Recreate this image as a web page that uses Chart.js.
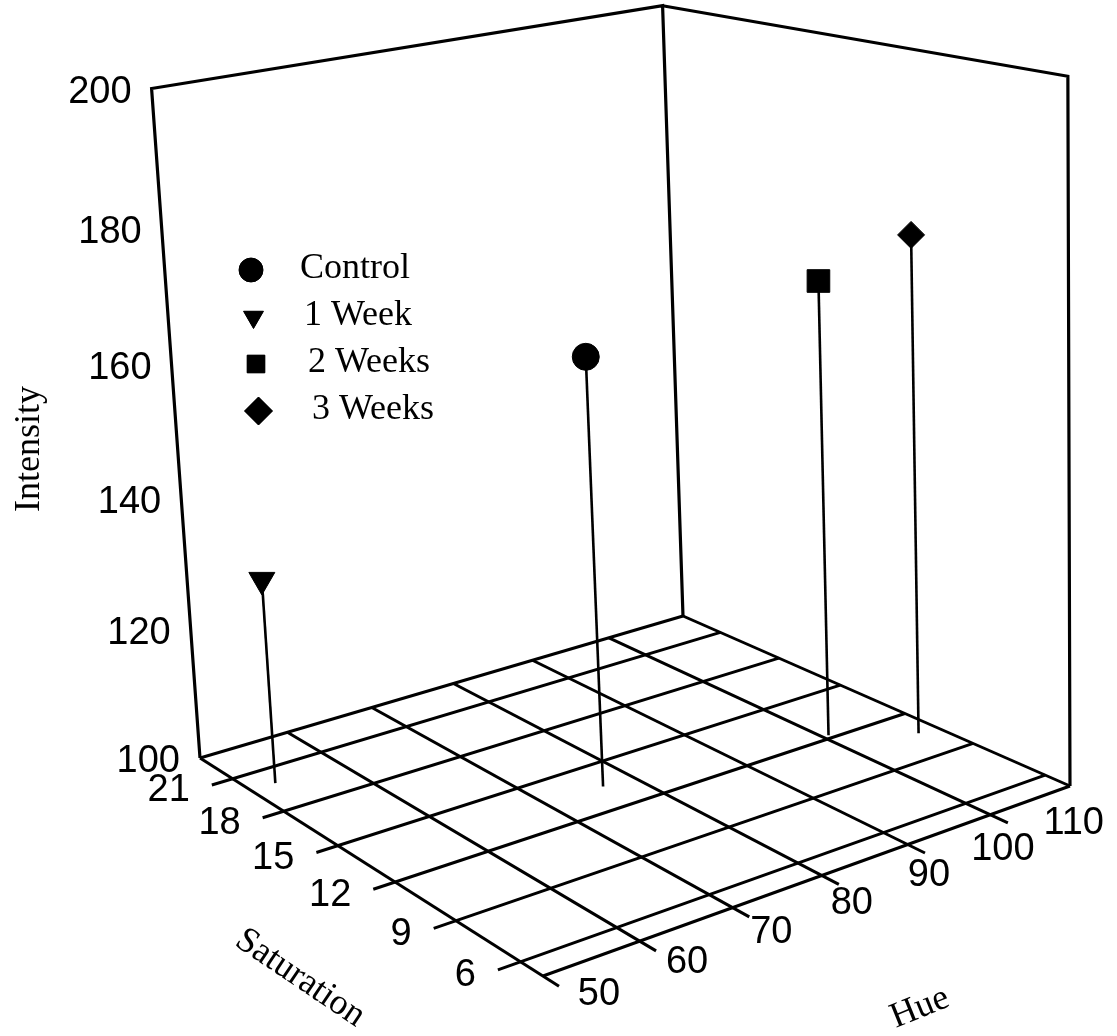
<!DOCTYPE html>
<html>
<head>
<meta charset="utf-8">
<script src="https://cdn.jsdelivr.net/npm/chart.js@4.4.0/dist/chart.umd.min.js"></script>
<style>
  html, body { margin: 0; padding: 0; background: #fff; }
  canvas { display: block; }
</style>
</head>
<body>
<canvas id="chart" width="1117" height="1036"></canvas>
<script>
// ---- data -------------------------------------------------------------
const seriesNames = ['Control', '1 Week', '2 Weeks', '3 Weeks'];
const hueValues = [76.5, 52.7, 100.7, 107.7];
const saturationValues = [13.5, 19.9, 12.2, 10.6];
const intensityValues = [163, 130.8, 168.3, 174.5];

const hueTicks = [50, 60, 70, 80, 90, 100, 110];
const saturationTicks = [21, 18, 15, 12, 9, 6];
const intensityTicks = [100, 120, 140, 160, 180, 200];

const hueRange = [50, 110];
const saturationRange = [5, 23];
const intensityRange = [100, 200];

// ---- look -------------------------------------------------------------
const markerStyles = ['circle', 'triangle', 'rect', 'rectRot'];
const markerRotation = [0, 180, 0, 0];
const markerRadius = [13.5, 15, 16, 13.5];
const legendRadius = [12, 11.5, 12.5, 14];
const TICK_FONT = '38px "Liberation Sans", Arial, sans-serif';
const TITLE_FONT = '36px "Liberation Serif", "Times New Roman", serif';

// ---- perspective camera ---------------------------------------------
// The box is pinned by where its floor and ceiling corners fall on the view plane.
// Floor order: (hueMin,satMax) (hueMax,satMax) (hueMax,satMin) (hueMin,satMin)
const FLOOR_CORNERS = [[200, 758], [683, 616], [1070, 786], [543, 976]];
const CEILING_CORNERS = [[151, 84], [663, 10], [1068, 76]];

function squareToQuad(q) {
  const [[x0, y0], [x1, y1], [x2, y2], [x3, y3]] = q;
  const sx = x0 - x1 + x2 - x3, sy = y0 - y1 + y2 - y3;
  const dx1 = x1 - x2, dx2 = x3 - x2, dy1 = y1 - y2, dy2 = y3 - y2;
  const den = dx1 * dy2 - dx2 * dy1;
  const g = (sx * dy2 - sy * dx2) / den;
  const h = (dx1 * sy - dy1 * sx) / den;
  return {
    a: x1 - x0 + g * x1, b: x3 - x0 + h * x3, c: x0,
    d: y1 - y0 + g * y1, e: y3 - y0 + h * y3, f: y0,
    g: g, h: h
  };
}

function det3(m) {
  return m[0][0] * (m[1][1] * m[2][2] - m[1][2] * m[2][1])
       - m[0][1] * (m[1][0] * m[2][2] - m[1][2] * m[2][0])
       + m[0][2] * (m[1][0] * m[2][1] - m[1][1] * m[2][0]);
}

function solve3(M, v) {
  const D = det3(M);
  return [0, 1, 2].map(k => det3(M.map((row, r) => row.map((val, c) => (c === k ? v[r] : val)))) / D);
}

// vertical column of the projection matrix, least squares over the ceiling corners
function fitLift(H, tops) {
  const uv = [[0, 0], [1, 0], [1, 1]];
  const rows = [], rhs = [];
  tops.forEach(([xt, yt], i) => {
    const [s, t] = uv[i];
    const X = H.a * s + H.b * t + H.c;
    const Y = H.d * s + H.e * t + H.f;
    const W = H.g * s + H.h * t + 1;
    rows.push([1, 0, -xt]); rhs.push(xt * W - X);
    rows.push([0, 1, -yt]); rhs.push(yt * W - Y);
  });
  const N = [[0, 0, 0], [0, 0, 0], [0, 0, 0]], r = [0, 0, 0];
  rows.forEach((row, k) => {
    for (let i = 0; i < 3; i++) {
      r[i] += row[i] * rhs[k];
      for (let j = 0; j < 3; j++) N[i][j] += row[i] * row[j];
    }
  });
  const [x, y, w] = solve3(N, r);
  return { x, y, w };
}

const FLOOR = squareToQuad(FLOOR_CORNERS);
const LIFT = fitLift(FLOOR, CEILING_CORNERS);

function project(hue, sat, inten) {
  const s = (hue - hueRange[0]) / (hueRange[1] - hueRange[0]);
  const t = (saturationRange[1] - sat) / (saturationRange[1] - saturationRange[0]);
  const z = (inten - intensityRange[0]) / (intensityRange[1] - intensityRange[0]);
  const X = FLOOR.a * s + FLOOR.b * t + FLOOR.c + LIFT.x * z;
  const Y = FLOOR.d * s + FLOOR.e * t + FLOOR.f + LIFT.y * z;
  const W = FLOOR.g * s + FLOOR.h * t + 1 + LIFT.w * z;
  return { x: X / W, y: Y / W };
}

// ---- drawing helpers --------------------------------------------------
function toPixel(chart, p) {
  return { x: chart.scales.x.getPixelForValue(p.x), y: chart.scales.y.getPixelForValue(p.y) };
}

function polyline(chart, ctx, pts, width) {
  ctx.beginPath();
  pts.forEach((q, i) => {
    const p = toPixel(chart, project(q[0], q[1], q[2]));
    if (i === 0) ctx.moveTo(p.x, p.y); else ctx.lineTo(p.x, p.y);
  });
  ctx.lineWidth = width;
  ctx.stroke();
}

const HUE_TICK_LEN = 0.7;   // saturation units past the front edge
const SAT_TICK_LEN = 2.3;   // hue units past the left edge

const boxPlugin = {
  id: 'box3d',
  beforeDatasetsDraw(chart) {
    const ctx = chart.ctx;
    const [h0, h1] = hueRange, [s0, s1] = saturationRange, [i0, i1] = intensityRange;
    ctx.save();
    ctx.strokeStyle = '#000';
    ctx.lineJoin = 'miter';
    ctx.lineCap = 'butt';

    // back walls
    polyline(chart, ctx, [[h0, s1, i0], [h0, s1, i1], [h1, s1, i1], [h1, s1, i0]], 3.2);
    polyline(chart, ctx, [[h1, s1, i1], [h1, s0, i1], [h1, s0, i0]], 3.2);

    // floor: hue lines with ticks past the front edge
    hueTicks.forEach(h => {
      const end = h === h1 ? s0 : s0 - HUE_TICK_LEN;
      polyline(chart, ctx, [[h, s1, i0], [h, end, i0]], 3);
    });
    // floor: saturation lines with ticks past the left edge
    saturationTicks.forEach(s => {
      polyline(chart, ctx, [[h1, s, i0], [h0 - SAT_TICK_LEN, s, i0]], 3);
    });
    // floor border along the back and the front
    polyline(chart, ctx, [[h0, s1, i0], [h1, s1, i0]], 3);
    polyline(chart, ctx, [[h0, s0, i0], [h1, s0, i0]], 3);

    // drop lines from each point to the floor
    seriesNames.forEach((_, k) => {
      polyline(chart, ctx, [[hueValues[k], saturationValues[k], intensityValues[k]],
                            [hueValues[k], saturationValues[k], i0]], 2.6);
    });
    ctx.restore();
  },
  afterDatasetsDraw(chart) {
    const ctx = chart.ctx;
    const [h0, h1] = hueRange, [s0, s1] = saturationRange;
    ctx.save();
    ctx.fillStyle = '#000';

    // intensity labels along the left vertical edge
    ctx.font = TICK_FONT;
    ctx.textAlign = 'right';
    ctx.textBaseline = 'middle';
    intensityTicks.forEach(v => {
      const p = toPixel(chart, project(h0, s1, v));
      ctx.fillText(String(v), p.x - 20, p.y + 4);
    });

    // saturation labels at the tick ends
    saturationTicks.forEach(s => {
      const p = toPixel(chart, project(h0 - SAT_TICK_LEN, s, intensityRange[0]));
      ctx.fillText(String(s), p.x - 22, p.y + 6);
    });

    // hue labels below the tick ends; the offset swings from right-of to under the tick
    ctx.textAlign = 'center';
    const offA = { x: 40, y: 8 }, offB = { x: -14, y: 30 };
    hueTicks.forEach(h => {
      const f = (h - h0) / (h1 - h0);
      const p = toPixel(chart, project(h, s0 - HUE_TICK_LEN, intensityRange[0]));
      ctx.fillText(String(h), p.x + offA.x + (offB.x - offA.x) * f, p.y + offA.y + (offB.y - offA.y) * f);
    });

    // axis titles
    ctx.font = TITLE_FONT;
    const title = (text, x, y, deg) => {
      ctx.save();
      ctx.translate(x, y);
      ctx.rotate(deg * Math.PI / 180);
      ctx.textAlign = 'center';
      ctx.textBaseline = 'middle';
      ctx.fillText(text, 0, 0);
      ctx.restore();
    };
    title('Intensity', 30, 449, -90);
    title('Saturation', 300, 978, 34);
    title('Hue', 920, 1008, -22);

    // legend
    ctx.textAlign = 'left';
    ctx.textBaseline = 'alphabetic';
    seriesNames.forEach((name, k) => {
      const my = 270 + 47 * k;
      const mx = 251 + 2.5 * k;
      Chart.helpers.drawPoint(ctx, {
        pointStyle: markerStyles[k], radius: legendRadius[k], rotation: markerRotation[k], borderWidth: 1
      }, mx, my);
      ctx.fill();
      ctx.fillText(name, 300 + 4 * k, my + 8);
    });
    ctx.restore();
  }
};

// ---- chart ------------------------------------------------------------
const datasets = seriesNames.map((name, k) => {
  const p = project(hueValues[k], saturationValues[k], intensityValues[k]);
  return {
    label: name,
    data: [{ x: p.x, y: p.y }],
    pointStyle: markerStyles[k],
    rotation: markerRotation[k],
    pointRadius: markerRadius[k],
    pointHoverRadius: markerRadius[k],
    backgroundColor: '#000',
    borderColor: '#000',
    borderWidth: 1,
    showLine: false
  };
});

new Chart(document.getElementById('chart'), {
  type: 'scatter',
  data: { datasets },
  options: {
    responsive: false,
    devicePixelRatio: 1,
    animation: false,
    layout: { padding: 0, autoPadding: false },
    plugins: { legend: { display: false }, tooltip: { enabled: false } },
    scales: {
      x: { type: 'linear', min: 0, max: 1117, display: false },
      y: { type: 'linear', min: 0, max: 1036, reverse: true, display: false }
    }
  },
  plugins: [boxPlugin]
});
</script>
</body>
</html>
